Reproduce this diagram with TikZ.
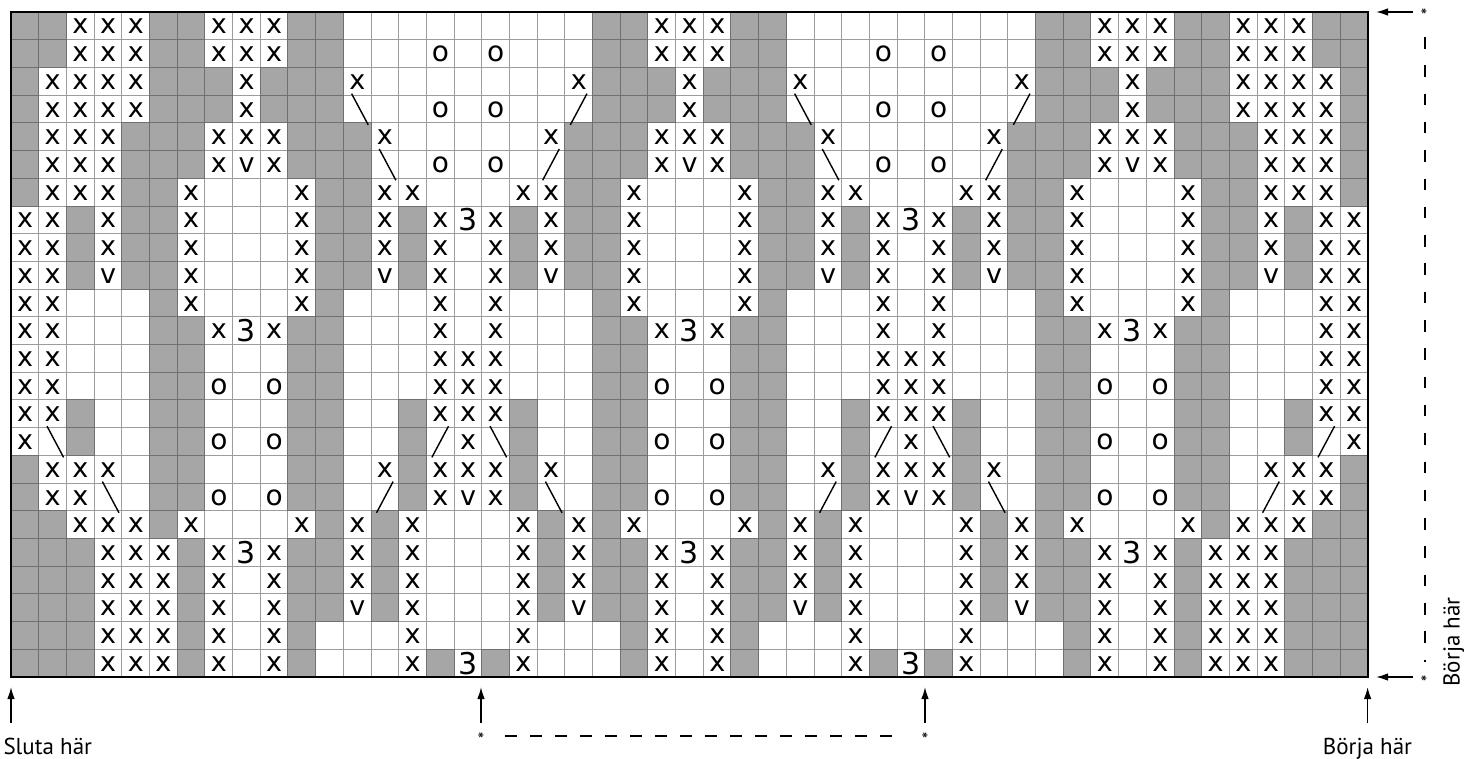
\documentclass[tikz,border=0pt]{standalone}
\usepackage{fontspec}
\setmainfont{DejaVu Sans}
\newfontfamily\labelfont{PT Sans}
\usetikzlibrary{arrows.meta}
\definecolor{cellgray}{HTML}{A6A6A6}
\definecolor{gridlight}{HTML}{9C9C9C}
\definecolor{griddark}{HTML}{707070}

\def\kcw{27.69}
\def\kch{27.71}
\def\chartrow#1#2{\def\krow{#1}\def\kcol{0}\kparse#2\relax}
\def\kparse#1{\ifx#1\relax\else\kcell{#1}\edef\kcol{\the\numexpr\kcol+1\relax}\expandafter\kparse\fi}
\def\kcell#1{\pgfmathsetmacro\kx{11+27.69*\kcol}\pgfmathsetmacro\ky{12+27.71*\krow}\csname kc\kmode#1\endcsname}

% mode 1: white cells with light grid
\def\kwhite{\draw[gridw] (\kx,\ky) rectangle ++(\kcw,\kch);}
\expandafter\let\csname kc1.\endcsname\kwhite
\expandafter\let\csname kc1x\endcsname\kwhite
\expandafter\let\csname kc1v\endcsname\kwhite
\expandafter\let\csname kc1o\endcsname\kwhite
\expandafter\let\csname kc13\endcsname\kwhite
\expandafter\let\csname kc1b\endcsname\kwhite
\expandafter\let\csname kc1s\endcsname\kwhite
% mode 2: gray cells
\expandafter\def\csname kc2G\endcsname{\filldraw[gridg] (\kx,\ky) rectangle ++(\kcw,\kch);}
% mode 3: symbols
\expandafter\def\csname kc3x\endcsname{\node[sym] (s\krow-\kcol) at (\kx+14,\ky+14.6) {x};}
\expandafter\def\csname kc3v\endcsname{\node[sym] (s\krow-\kcol) at (\kx+14,\ky+14.6) {v};}
\expandafter\def\csname kc3o\endcsname{\node[sym,font=\fontsize{28}{28}\selectfont] (s\krow-\kcol) at (\kx+14,\ky+14.6) {o};}
\expandafter\def\csname kc33\endcsname{\node[sym,font=\fontsize{30}{30}\selectfont] (s\krow-\kcol) at (\kx+13.85,\ky+13.85) {3};}
\expandafter\def\csname kc3b\endcsname{\draw[slashline] (\kx+0.3*\kcw,\ky-1.5) -- (\kx+0.9*\kcw,\ky+\kch+2);}
\expandafter\def\csname kc3s\endcsname{\draw[slashline] (\kx+0.8*\kcw,\ky-1.5) -- (\kx+0.2*\kcw,\ky+\kch+2);}

\def\kallrows{%
\chartrow{0}{GGxxxGGxxxGG.........GGxxxGG.........GGxxxGGxxxGG}%
\chartrow{1}{GGxxxGGxxxGG...o.o...GGxxxGG...o.o...GGxxxGGxxxGG}%
\chartrow{2}{GxxxxGGGxGGGx.......xGGGxGGGx.......xGGGxGGGxxxxG}%
\chartrow{3}{GxxxxGGGxGGGb..o.o..sGGGxGGGb..o.o..sGGGxGGGxxxxG}%
\chartrow{4}{GxxxGGGxxxGGGx.....xGGGxxxGGGx.....xGGGxxxGGGxxxG}%
\chartrow{5}{GxxxGGGxvxGGGb.o.o.sGGGxvxGGGb.o.o.sGGGxvxGGGxxxG}%
\chartrow{6}{GxxxGGx...xGGxx...xxGGx...xGGxx...xxGGx...xGGxxxG}%
\chartrow{7}{xxGxGGx...xGGxGx3xGxGGx...xGGxGx3xGxGGx...xGGxGxx}%
\chartrow{8}{xxGxGGx...xGGxGx.xGxGGx...xGGxGx.xGxGGx...xGGxGxx}%
\chartrow{9}{xxGvGGx...xGGvGx.xGvGGx...xGGvGx.xGvGGx...xGGvGxx}%
\chartrow{10}{xx...Gx...xG...x.x...Gx...xG...x.x...Gx...xG...xx}%
\chartrow{11}{xx...GGx3xGG...x.x...GGx3xGG...x.x...GGx3xGG...xx}%
\chartrow{12}{xx...GG...GG...xxx...GG...GG...xxx...GG...GG...xx}%
\chartrow{13}{xx...GGo.oGG...xxx...GGo.oGG...xxx...GGo.oGG...xx}%
\chartrow{14}{xxG..GG...GG..GxxxG..GG...GG..GxxxG..GG...GG..Gxx}%
\chartrow{15}{xbG..GGo.oGG..GsxbG..GGo.oGG..GsxbG..GGo.oGG..Gsx}%
\chartrow{16}{Gxxx.GG...GG.xGxxxGx.GG...GG.xGxxxGx.GG...GG.xxxG}%
\chartrow{17}{Gxxb.GGo.oGG.sGxvxGb.GGo.oGG.sGxvxGb.GGo.oGG.sxxG}%
\chartrow{18}{GGxxxGx...xGxGx...xGxGx...xGxGx...xGxGx...xGxxxGG}%
\chartrow{19}{GGGxxxGx3xGGxGx...xGxGGx3xGGxGx...xGxGGx3xGxxxGGG}%
\chartrow{20}{GGGxxxGx.xGGxGx...xGxGGx.xGGxGx...xGxGGx.xGxxxGGG}%
\chartrow{21}{GGGxxxGx.xGGvGx...xGvGGx.xGGvGx...xGvGGx.xGxxxGGG}%
\chartrow{22}{GGGxxxGx.xG...x...x...Gx.xG...x...x...Gx.xGxxxGGG}%
\chartrow{23}{GGGxxxGx.xG...xG3Gx...Gx.xG...xG3Gx...Gx.xGxxxGGG}%
}

\begin{document}
\begin{tikzpicture}[x=1pt,y=-1pt,
  gridw/.style={draw=gridlight,line width=0.9pt},
  gridg/.style={fill=cellgray,draw=griddark,line width=0.9pt},
  sym/.style={inner sep=0pt,font=\fontsize{27}{27}\selectfont,text=black},
  slashline/.style={draw=black,line width=1.4pt},
  arr/.style={line width=1.4pt,-{Latex[length=12pt,width=7.5pt]}},
  lbl/.style={inner sep=0pt,font=\labelfont\fontsize{23}{23}\selectfont},
  star/.style={inner sep=0pt,font=\labelfont\fontsize{19}{19}\selectfont},
  dashv/.style={line width=1.3pt,dash pattern=on 11.5pt off 16.8pt},
  dashh/.style={line width=1.3pt,dash pattern=on 12pt off 13pt}]
\useasboundingbox (0,0) rectangle (1464,758);
\fill[white] (0,0) rectangle (1464,758);
\def\kmode{1}\kallrows
\def\kmode{2}\kallrows
\def\kmode{3}\kallrows
\draw[line width=2pt] (11,12) rectangle (1367.6,677);

% right side
\coordinate (trtail) at (1413,12);
\coordinate (trtip) at (1376,12);
\coordinate (brtail) at (1413,677);
\coordinate (brtip) at (1376,677);
\draw[arr] (trtail) -- (trtip);
\draw[arr] (brtail) -- (brtip);
\node[star] (startr) at (1424,16) {*};
\node[star] (starbr) at (1424,683) {*};
\coordinate (dvtop) at (1425,37);
\coordinate (dvbot) at (1425,662);
\draw[dashv] (dvtop) -- (dvbot);
\node[lbl,rotate=90] (borjav) at (1454,642) {Börja här};

% bottom
\coordinate (a1t) at (11,723);   \coordinate (a1h) at (11,687);
\coordinate (a2t) at (481,723);  \coordinate (a2h) at (481,687);
\coordinate (a3t) at (925,723);  \coordinate (a3h) at (925,687);
\coordinate (a4t) at (1367.6,723); \coordinate (a4h) at (1367.6,687);
\draw[arr] (a1t) -- (a1h);
\draw[arr] (a2t) -- (a2h);
\draw[arr] (a3t) -- (a3h);
\draw[arr] (a4t) -- (a4h);
\node[star] (starb1) at (481,739.5) {*};
\node[star] (starb2) at (925,739.5) {*};
\coordinate (dhl) at (505,736);
\coordinate (dhr) at (902,736);
\draw[dashh] (dhl) -- (dhr);
\node[lbl,anchor=base west] (sluta) at (3.3,754) {Sluta här};
\node[lbl,anchor=base] (borjah) at (1367.5,754) {Börja här};
\end{tikzpicture}
\end{document}
